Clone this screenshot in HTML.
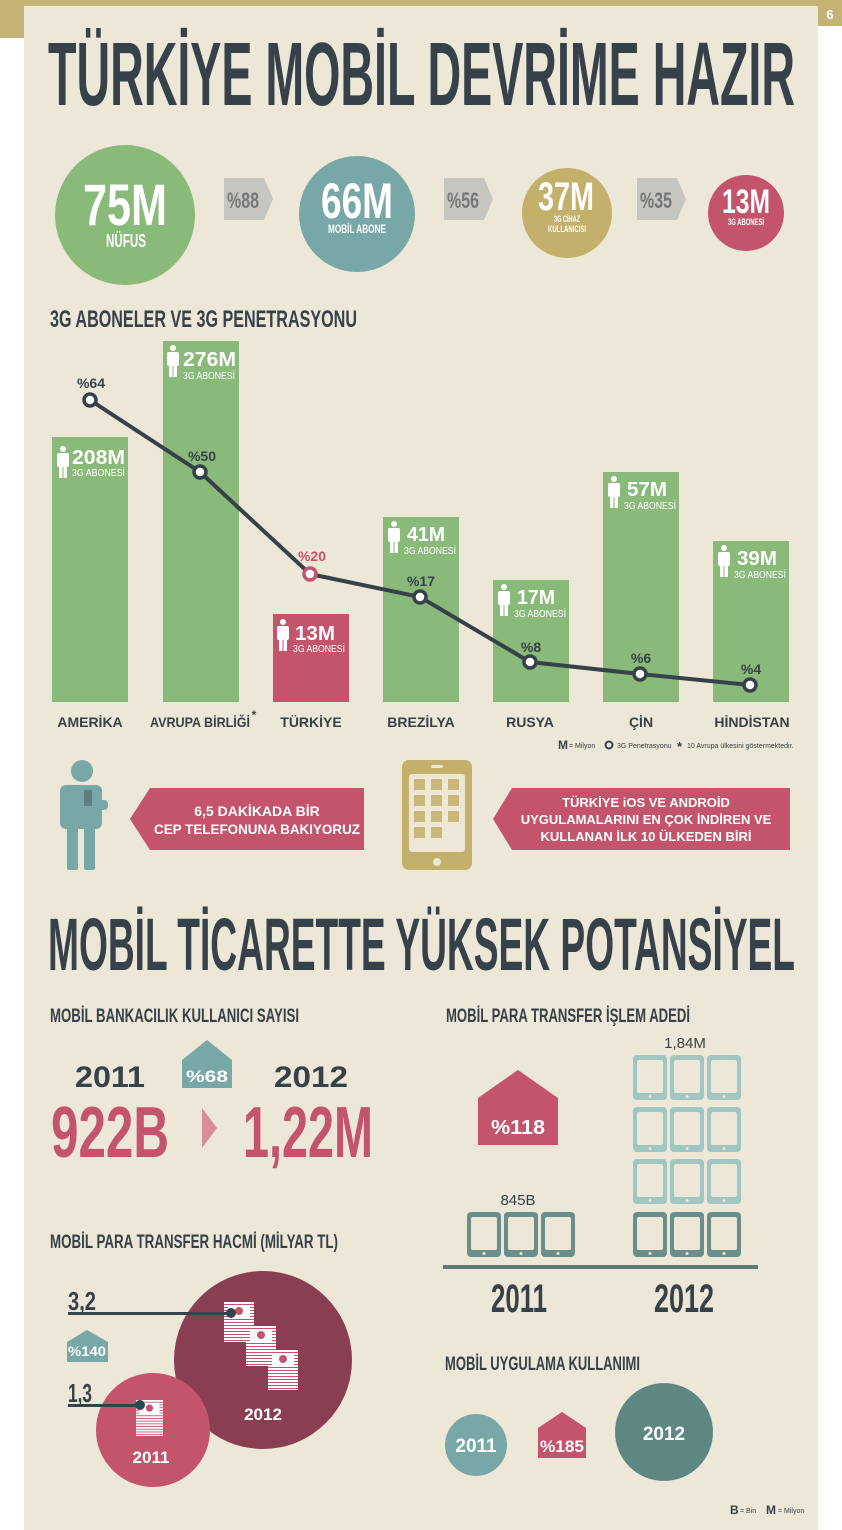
<!DOCTYPE html>
<html><head><meta charset="utf-8"><style>
html,body{margin:0;padding:0;background:#fff;}
svg{display:block;}
text{font-family:"Liberation Sans",sans-serif;font-weight:bold;}
text.n{font-weight:normal;}
</style></head><body>
<svg width="842" height="1530" viewBox="0 0 842 1530" xmlns="http://www.w3.org/2000/svg">
<defs>
<pattern id="stripe" width="4" height="3" patternUnits="userSpaceOnUse"><rect width="4" height="3" fill="#fff"/><rect y="2" width="4" height="1" fill="#c3546b"/></pattern>
<g id="man" fill="#fff">
<circle cx="7" cy="3" r="3"/>
<rect x="1" y="7" width="12" height="14" rx="2"/>
<rect x="3" y="18" width="3.5" height="14"/>
<rect x="7.5" y="18" width="3.5" height="14"/>
</g>
<g id="ph"><rect x="0" y="0" width="34" height="45" rx="4" fill="currentColor"/><rect x="4" y="5" width="26" height="33" rx="2" fill="#ece7d7"/><circle cx="17" cy="41.5" r="1.5" fill="#ece7d7"/></g>
<g id="stack"><rect x="0" y="0" width="30" height="40" fill="url(#stripe)"/><rect x="4" y="3" width="22" height="12" fill="#fff"/><circle cx="15" cy="9" r="4" fill="#c3546b"/></g>
</defs>
<rect x="0" y="0" width="842" height="1530" fill="#fff"/>
<rect x="24" y="0" width="794" height="1530" fill="#ece7d7"/>
<rect x="0" y="0" width="818" height="6" fill="#c4b374"/>
<rect x="0" y="0" width="24" height="38" fill="#c4b374"/>
<rect x="818" y="0" width="24" height="26" fill="#c4b374"/>
<text x="830" y="19" fill="#fff" font-size="13" text-anchor="middle">6</text>

<text x="48" y="105" fill="#37414a" font-size="90" textLength="747" lengthAdjust="spacingAndGlyphs">TÜRKİYE MOBİL DEVRİME HAZIR</text>

<circle cx="125" cy="215" r="70" fill="#8aba7a"/>
<text x="125" y="225" fill="#fff" font-size="58" text-anchor="middle" textLength="84" lengthAdjust="spacingAndGlyphs">75M</text>
<text x="126" y="247" fill="#fff" font-size="18" text-anchor="middle" textLength="40" lengthAdjust="spacingAndGlyphs">NÜFUS</text>
<polygon points="224,178 264,178 273,199 264,220 224,220" fill="#c6c6c0"/>
<text x="243" y="208" fill="#777" font-size="22" text-anchor="middle" textLength="32" lengthAdjust="spacingAndGlyphs">%88</text>
<circle cx="357" cy="214" r="58" fill="#78a7a8"/>
<text x="357" y="218" fill="#fff" font-size="50" text-anchor="middle" textLength="72" lengthAdjust="spacingAndGlyphs">66M</text>
<text x="357" y="233" fill="#fff" font-size="12" text-anchor="middle" textLength="58" lengthAdjust="spacingAndGlyphs">MOBİL ABONE</text>
<polygon points="444,178 484,178 493,199 484,220 444,220" fill="#c6c6c0"/>
<text x="463" y="208" fill="#777" font-size="22" text-anchor="middle" textLength="32" lengthAdjust="spacingAndGlyphs">%56</text>
<circle cx="567" cy="213" r="45" fill="#c3b06b"/>
<text x="566" y="210" fill="#fff" font-size="40" text-anchor="middle" textLength="56" lengthAdjust="spacingAndGlyphs">37M</text>
<text x="567" y="222" fill="#fff" font-size="9" text-anchor="middle" textLength="26" lengthAdjust="spacingAndGlyphs">3G CİHAZ</text>
<text x="567" y="232" fill="#fff" font-size="9" text-anchor="middle" textLength="38" lengthAdjust="spacingAndGlyphs">KULLANICISI</text>
<polygon points="637,178 677,178 686,199 677,220 637,220" fill="#c6c6c0"/>
<text x="656" y="208" fill="#777" font-size="22" text-anchor="middle" textLength="32" lengthAdjust="spacingAndGlyphs">%35</text>
<circle cx="746" cy="213" r="38" fill="#c3546b"/>
<text x="746" y="213" fill="#fff" font-size="34" text-anchor="middle" textLength="48" lengthAdjust="spacingAndGlyphs">13M</text>
<text x="746" y="225" fill="#fff" font-size="9" text-anchor="middle" textLength="36" lengthAdjust="spacingAndGlyphs">3G ABONESİ</text>

<text x="50" y="327" fill="#37414a" font-size="24" textLength="307" lengthAdjust="spacingAndGlyphs">3G ABONELER VE 3G PENETRASYONU</text>

<g fill="#8aba7a">
<rect x="52" y="437" width="76" height="265"/>
<rect x="163" y="341" width="76" height="361"/>
<rect x="383" y="517" width="76" height="185"/>
<rect x="493" y="580" width="76" height="122"/>
<rect x="603" y="472" width="76" height="230"/>
<rect x="713" y="541" width="76" height="161"/>
</g>
<rect x="273" y="614" width="76" height="88" fill="#c3546b"/>

<g font-size="20" fill="#fff">
<use href="#man" x="56" y="446"/><text x="72" y="464" textLength="53" lengthAdjust="spacingAndGlyphs">208M</text>
<text class="n" x="72" y="476" font-size="10" textLength="53" lengthAdjust="spacingAndGlyphs">3G ABONESİ</text>
<use href="#man" x="166" y="345"/><text x="183" y="366" textLength="53" lengthAdjust="spacingAndGlyphs">276M</text>
<text class="n" x="183" y="379" font-size="10" textLength="52" lengthAdjust="spacingAndGlyphs">3G ABONESİ</text>
<use href="#man" x="276" y="619"/><text x="295" y="640" textLength="40" lengthAdjust="spacingAndGlyphs">13M</text>
<text class="n" x="293" y="652" font-size="10" textLength="52" lengthAdjust="spacingAndGlyphs">3G ABONESİ</text>
<use href="#man" x="387" y="521"/><text x="407" y="541" textLength="38" lengthAdjust="spacingAndGlyphs">41M</text>
<text class="n" x="404" y="554" font-size="10" textLength="52" lengthAdjust="spacingAndGlyphs">3G ABONESİ</text>
<use href="#man" x="497" y="584"/><text x="517" y="604" textLength="38" lengthAdjust="spacingAndGlyphs">17M</text>
<text class="n" x="514" y="617" font-size="10" textLength="52" lengthAdjust="spacingAndGlyphs">3G ABONESİ</text>
<use href="#man" x="607" y="476"/><text x="627" y="496" textLength="40" lengthAdjust="spacingAndGlyphs">57M</text>
<text class="n" x="624" y="509" font-size="10" textLength="52" lengthAdjust="spacingAndGlyphs">3G ABONESİ</text>
<use href="#man" x="717" y="545"/><text x="737" y="565" textLength="40" lengthAdjust="spacingAndGlyphs">39M</text>
<text class="n" x="734" y="578" font-size="10" textLength="52" lengthAdjust="spacingAndGlyphs">3G ABONESİ</text>
</g>

<polyline points="90,400 200,472 310,574 420,597 530,662 640,674 750,685" fill="none" stroke="#37414a" stroke-width="4"/>
<g fill="#fff" stroke="#37414a" stroke-width="3.5">
<circle cx="90" cy="400" r="6"/><circle cx="200" cy="472" r="6"/>
<circle cx="420" cy="597" r="6"/><circle cx="530" cy="662" r="6"/><circle cx="640" cy="674" r="6"/><circle cx="750" cy="685" r="6"/>
</g>
<circle cx="310" cy="574" r="6" fill="#fff" stroke="#c3546b" stroke-width="3.5"/>
<g font-size="14" fill="#37414a" text-anchor="middle">
<text x="91" y="388">%64</text><text x="202" y="461">%50</text>
<text x="312" y="561" fill="#c3546b">%20</text><text x="421" y="586">%17</text>
<text x="531" y="652">%8</text><text x="641" y="663">%6</text><text x="751" y="674">%4</text>
</g>
<g font-size="14" fill="#37414a" text-anchor="middle">
<text x="90" y="727">AMERİKA</text>
<text x="200" y="727" textLength="100" lengthAdjust="spacingAndGlyphs">AVRUPA BİRLİĞİ</text>
<text x="254" y="719" font-size="12">*</text>
<text x="311" y="727">TÜRKİYE</text>
<text x="421" y="727">BREZİLYA</text>
<text x="530" y="727">RUSYA</text>
<text x="641" y="727">ÇİN</text>
<text x="752" y="727">HİNDİSTAN</text>
</g>
<g fill="#37414a" font-size="7">
<text x="558" y="749" font-size="12">M</text><text class="n" x="569" y="748">= Milyon</text>
<circle cx="609" cy="745" r="3.5" fill="none" stroke="#37414a" stroke-width="2"/><text class="n" x="617" y="748">3G Penetrasyonu</text>
<text x="677" y="751" font-size="13">*</text><text class="n" x="687" y="748">10 Avrupa ülkesini göstermektedir.</text>
</g>

<g fill="#78a7a8">
<circle cx="82" cy="771" r="11"/>
<rect x="60" y="785" width="42" height="44" rx="6"/>
<rect x="67" y="820" width="11" height="50" rx="2"/>
<rect x="84" y="820" width="11" height="50" rx="2"/>
<rect x="96" y="800" width="12" height="10" rx="4"/>
</g>
<rect x="84" y="790" width="8" height="16" fill="#5e7f80"/>
<polygon points="130,819 150,788 364,788 364,850 150,850" fill="#c3546b"/>
<text x="257" y="816" fill="#fff" font-size="14" text-anchor="middle">6,5 DAKİKADA BİR</text>
<text x="257" y="834" fill="#fff" font-size="14" text-anchor="middle" textLength="206" lengthAdjust="spacingAndGlyphs">CEP TELEFONUNA BAKIYORUZ</text>
<rect x="402" y="760" width="70" height="110" rx="7" fill="#c3b06b"/>
<rect x="409" y="774" width="56" height="78" rx="3" fill="#ece7d7"/>
<rect x="431" y="765" width="12" height="3" rx="1.5" fill="#ece7d7"/>
<circle cx="437" cy="862" r="4" fill="#ece7d7"/>
<g fill="#c9b879">
<rect x="414" y="779" width="11" height="11"/><rect x="431" y="779" width="11" height="11"/><rect x="448" y="779" width="11" height="11"/>
<rect x="414" y="795" width="11" height="11"/><rect x="431" y="795" width="11" height="11"/><rect x="448" y="795" width="11" height="11"/>
<rect x="414" y="811" width="11" height="11"/><rect x="431" y="811" width="11" height="11"/><rect x="448" y="811" width="11" height="11"/>
<rect x="414" y="827" width="11" height="11"/><rect x="431" y="827" width="11" height="11"/>
</g>
<polygon points="493,819 512,788 790,788 790,850 512,850" fill="#c3546b"/>
<g fill="#fff" font-size="13" text-anchor="middle">
<text x="646" y="807">TÜRKİYE iOS VE ANDROİD</text>
<text x="646" y="824">UYGULAMALARINI EN ÇOK İNDİREN VE</text>
<text x="646" y="841">KULLANAN İLK 10 ÜLKEDEN BİRİ</text>
</g>

<text x="48" y="970" fill="#37414a" font-size="74" textLength="747" lengthAdjust="spacingAndGlyphs">MOBİL TİCARETTE YÜKSEK POTANSİYEL</text>

<text x="50" y="1022" fill="#37414a" font-size="19" textLength="249" lengthAdjust="spacingAndGlyphs">MOBİL BANKACILIK KULLANICI SAYISI</text>
<text x="446" y="1022" fill="#37414a" font-size="19" textLength="244" lengthAdjust="spacingAndGlyphs">MOBİL PARA TRANSFER İŞLEM ADEDİ</text>

<text x="110" y="1087" fill="#37414a" font-size="30" text-anchor="middle" textLength="70" lengthAdjust="spacingAndGlyphs">2011</text>
<text x="110" y="1157" fill="#c3546b" font-size="72" text-anchor="middle" textLength="118" lengthAdjust="spacingAndGlyphs">922B</text>
<polygon points="182,1060 207,1040 232,1060 232,1088 182,1088" fill="#78a7a8"/>
<text x="207" y="1082" fill="#fff" font-size="17" text-anchor="middle" textLength="42" lengthAdjust="spacingAndGlyphs">%68</text>
<polygon points="202,1108 217,1128 202,1148" fill="#d98d97"/>
<text x="311" y="1087" fill="#37414a" font-size="30" text-anchor="middle" textLength="74" lengthAdjust="spacingAndGlyphs">2012</text>
<text x="308" y="1157" fill="#c3546b" font-size="72" text-anchor="middle" textLength="130" lengthAdjust="spacingAndGlyphs">1,22M</text>

<g color="#9fc6c3">
<use href="#ph" x="633" y="1055"/><use href="#ph" x="670" y="1055"/><use href="#ph" x="707" y="1055"/>
<use href="#ph" x="633" y="1107"/><use href="#ph" x="670" y="1107"/><use href="#ph" x="707" y="1107"/>
<use href="#ph" x="633" y="1159"/><use href="#ph" x="670" y="1159"/><use href="#ph" x="707" y="1159"/>
</g>
<g color="#6a8f8b">
<use href="#ph" x="633" y="1212"/><use href="#ph" x="670" y="1212"/><use href="#ph" x="707" y="1212"/>
<use href="#ph" x="467" y="1212"/><use href="#ph" x="504" y="1212"/><use href="#ph" x="541" y="1212"/>
</g>
<text class="n" x="685" y="1048" fill="#37414a" font-size="15" text-anchor="middle">1,84M</text>
<text class="n" x="518" y="1205" fill="#37414a" font-size="15" text-anchor="middle">845B</text>
<polygon points="478,1098 518,1070 558,1098 558,1145 478,1145" fill="#c3546b"/>
<text x="518" y="1134" fill="#fff" font-size="20" text-anchor="middle" textLength="54" lengthAdjust="spacingAndGlyphs">%118</text>
<rect x="443" y="1265" width="315" height="4" fill="#5f7d78"/>
<text x="519" y="1312" fill="#37414a" font-size="40" text-anchor="middle" textLength="56" lengthAdjust="spacingAndGlyphs">2011</text>
<text x="684" y="1312" fill="#37414a" font-size="40" text-anchor="middle" textLength="60" lengthAdjust="spacingAndGlyphs">2012</text>

<text x="50" y="1248" fill="#37414a" font-size="19" textLength="288" lengthAdjust="spacingAndGlyphs">MOBİL PARA TRANSFER HACMİ (MİLYAR TL)</text>
<circle cx="263" cy="1360" r="89" fill="#893e52"/>
<circle cx="153" cy="1430" r="57" fill="#c3546b"/>
<use href="#stack" x="224" y="1302"/>
<use href="#stack" x="246" y="1326"/>
<use href="#stack" x="268" y="1350"/>
<use href="#stack" x="136" y="1400" transform="translate(136 1400) scale(0.9) translate(-136 -1400)"/>
<text x="263" y="1420" fill="#fff" font-size="17" text-anchor="middle">2012</text>
<text x="151" y="1463" fill="#fff" font-size="17" text-anchor="middle">2011</text>
<text x="68" y="1310" fill="#37414a" font-size="26" textLength="28" lengthAdjust="spacingAndGlyphs">3,2</text>
<rect x="68" y="1312" width="163" height="3" fill="#37414a"/><circle cx="231" cy="1313" r="5" fill="#37414a"/>
<polygon points="67,1342 87,1330 108,1342 108,1362 67,1362" fill="#78a7a8"/>
<text x="87" y="1356" fill="#fff" font-size="14" text-anchor="middle" textLength="38" lengthAdjust="spacingAndGlyphs">%140</text>
<text x="68" y="1402" fill="#37414a" font-size="26" textLength="24" lengthAdjust="spacingAndGlyphs">1,3</text>
<rect x="68" y="1404" width="72" height="3" fill="#37414a"/><circle cx="140" cy="1405" r="5" fill="#37414a"/>

<text x="445" y="1370" fill="#37414a" font-size="19" textLength="195" lengthAdjust="spacingAndGlyphs">MOBİL UYGULAMA KULLANIMI</text>
<circle cx="476" cy="1445" r="31" fill="#78a7a8"/>
<text x="476" y="1452" fill="#fff" font-size="19" text-anchor="middle">2011</text>
<polygon points="538,1428 562,1412 586,1428 586,1458 538,1458" fill="#c3546b"/>
<text x="562" y="1452" fill="#fff" font-size="17" text-anchor="middle" textLength="44" lengthAdjust="spacingAndGlyphs">%185</text>
<circle cx="664" cy="1432" r="49" fill="#5f8781"/>
<text x="664" y="1440" fill="#fff" font-size="19" text-anchor="middle">2012</text>
<g fill="#37414a">
<text x="730" y="1514" font-size="12">B</text><text class="n" x="740" y="1513" font-size="7">= Bin</text>
<text x="766" y="1514" font-size="12">M</text><text class="n" x="778" y="1513" font-size="7">= Milyon</text>
</g>
</svg>
</body></html>
